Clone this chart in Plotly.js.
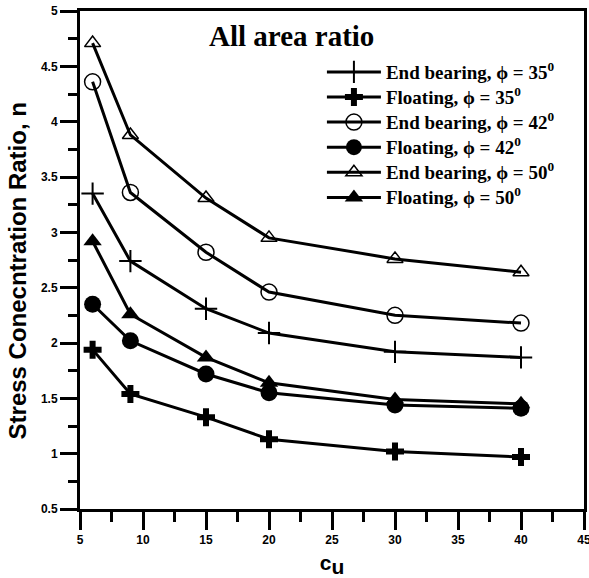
<!DOCTYPE html>
<html><head><meta charset="utf-8">
<script src="https://cdn.plot.ly/plotly-3.0.1.min.js"></script>
<style>html,body{margin:0;padding:0;background:#fff}#c{width:589px;height:578px}</style>
</head><body><div id="c"></div>
<script>
var cu = [6, 9, 15, 20, 30, 40];
var endBearing35 = [3.35, 2.74, 2.31, 2.09, 1.92, 1.87];
var floating35 = [1.94, 1.54, 1.33, 1.13, 1.02, 0.97];
var endBearing42 = [4.36, 3.36, 2.82, 2.46, 2.25, 2.18];
var floating42 = [2.35, 2.02, 1.72, 1.55, 1.44, 1.41];
var endBearing50 = [4.71, 3.88, 3.31, 2.95, 2.76, 2.64];
var floating50 = [2.92, 2.26, 1.87, 1.64, 1.49, 1.45];
var seriesNames = [
  'End bearing, \u03d5 = 35<sup>0</sup>',
  'Floating, \u03d5 = 35<sup>0</sup>',
  'End bearing, \u03d5 = 42<sup>0</sup>',
  'Floating, \u03d5 = 42<sup>0</sup>',
  'End bearing, \u03d5 = 50<sup>0</sup>',
  'Floating, \u03d5 = 50<sup>0</sup>'
];
var seriesVals = [endBearing35, floating35, endBearing42, floating42, endBearing50, floating50];
var markers = [
  {symbol:'cross-thin-open', size:16, color:'#000', line:{color:'#000', width:2}},
  {symbol:'cross', size:15, color:'#000', line:{color:'#000', width:0}},
  {symbol:'circle-open', size:16, color:'#000', line:{color:'#000', width:1.5}},
  {symbol:'circle', size:17, color:'#000'},
  {symbol:'triangle-up-open', size:14, color:'#000', line:{color:'#000', width:1.5}},
  {symbol:'triangle-up', size:16, color:'#000'}
];
var traces = seriesVals.map(function(v, i){
  return {x: cu, y: v, name: '<span style="font-size:19px">' + seriesNames[i] + '</span>',
    type:'scatter', mode:'lines+markers',
    line:{color:'#000', width:3}, marker: markers[i]};
});
var tickFont = {family:'Liberation Sans, Arial', size:12, color:'#000', weight:'bold'};
var layout = {
  width:589, height:578,
  margin:{l:80, r:5, t:11, b:69},
  paper_bgcolor:'#fff', plot_bgcolor:'#fff',
  showlegend:true,
  legend:{x:0.48, y:0.913, xanchor:'left', yanchor:'top', bgcolor:'rgba(0,0,0,0)',
    font:{family:'Liberation Serif, Times New Roman', size:17, color:'#000', weight:'bold'},
    tracegroupgap:0, itemwidth:54},
  xaxis:{range:[5,45], showgrid:false, zeroline:false, showline:true, linewidth:3, linecolor:'#000',
    mirror:true, ticks:'outside', ticklen:18, tickwidth:3, tickcolor:'#000', dtick:5, tick0:5,
    tickfont:tickFont, ticklabeloverflow:'allow',
    minor:{dtick:2.5, ticks:'outside', ticklen:10, tickwidth:3, tickcolor:'#000', showgrid:false},
    title:{text:'c<sub><span style="font-size:21px">u</span></sub>', font:{family:'Liberation Sans, Arial', size:21, color:'#000', weight:'bold'}, standoff:10}},
  yaxis:{range:[0.5,5], showgrid:false, zeroline:false, showline:true, linewidth:3, linecolor:'#000',
    mirror:true, ticks:'outside', ticklen:17, tickwidth:3, tickcolor:'#000', dtick:0.5, tick0:0.5,
    tickfont:tickFont, ticklabeloverflow:'allow'},
  annotations:[
    {text:'All area ratio', xref:'paper', yref:'paper', x:0.419, y:0.95, xanchor:'center', yanchor:'middle',
     showarrow:false, font:{family:'Liberation Serif, Times New Roman', size:29, color:'#000', weight:'bold'}},
    {text:'Stress Conecntration Ratio, n', xref:'paper', yref:'paper', x:-0.124, y:0.478, xanchor:'center', yanchor:'middle',
     textangle:-90, showarrow:false, font:{family:'Liberation Sans, Arial', size:24, color:'#000', weight:'bold'}}
  ]
};
layout.yaxis.minor = {dtick:0.25, ticks:'outside', ticklen:9, tickwidth:3, tickcolor:'#000', showgrid:false};
Plotly.newPlot('c', traces, layout, {displayModeBar:false, staticPlot:true});
</script></body></html>
